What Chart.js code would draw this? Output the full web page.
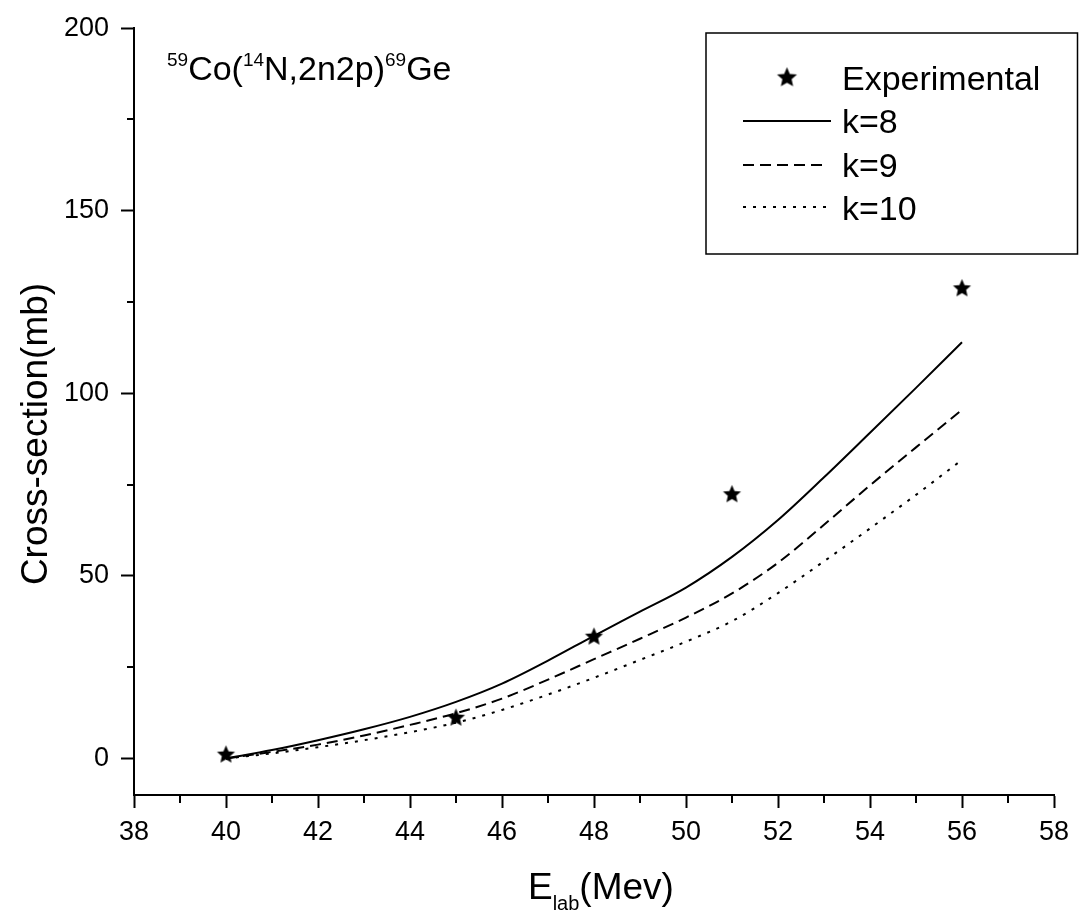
<!DOCTYPE html>
<html>
<head>
<meta charset="utf-8">
<title>59Co(14N,2n2p)69Ge cross-section</title>
<script src="https://cdn.jsdelivr.net/npm/chart.js@4/dist/chart.umd.min.js"></script>
<style>
  html, body { margin: 0; padding: 0; background: #fff; }
  #wrap { position: relative; width: 1079px; height: 915px; }
</style>
</head>
<body>
<div id="wrap"><canvas id="chart"></canvas></div>
<script>
// Beam energies (MeV) and measured cross-sections (mb)
const expEnergy = [40, 45, 48, 51, 56];
const expSigma  = [1.2, 11.3, 33.5, 72.5, 128.9];

// Theoretical excitation functions, sampled every 1 MeV
const calcEnergy = [40, 41, 42, 43, 44, 45, 46, 47, 48, 49, 50, 51, 52, 53, 54, 55, 56];
const sigmaK8  = [0, 2.3, 5.0, 8.0, 11.4, 15.5, 20.5, 26.8, 33.6, 40.2, 46.8, 55.2, 65.3, 77.0, 89.2, 101.5, 114.0];
const sigmaK9  = [0, 1.8, 3.8, 6.3, 9.2, 12.4, 16.4, 21.6, 27.2, 32.8, 38.6, 45.2, 53.6, 64.0, 74.8, 85.2, 95.5];
const sigmaK10 = [0, 1.4, 3.1, 5.0, 7.2, 9.8, 13.3, 17.5, 22.1, 27.0, 32.0, 37.6, 45.3, 54.0, 63.0, 72.2, 81.8];

// Axis tick values
const xTickValues = [38, 40, 42, 44, 46, 48, 50, 52, 54, 56, 58];
const xMinorValues = [39, 41, 43, 45, 47, 49, 51, 53, 55, 57];
const yTickValues = [0, 50, 100, 150, 200];
const yMinorValues = [25, 75, 125, 175];

const FONT = "'Liberation Sans', Arial, Helvetica, sans-serif";

function starImage(r) {
  const c = document.createElement('canvas');
  const s = Math.ceil(2 * r + 2);
  c.width = s; c.height = s;
  const g = c.getContext('2d');
  g.translate(s / 2, s / 2 + r * 0.08);
  g.beginPath();
  for (let i = 0; i < 10; i++) {
    const rad = i % 2 === 0 ? r : r * 0.46;
    const a = -Math.PI / 2 + i * Math.PI / 5;
    const px = rad * Math.cos(a), py = rad * Math.sin(a);
    if (i === 0) g.moveTo(px, py); else g.lineTo(px, py);
  }
  g.closePath();
  g.fillStyle = '#000';
  g.fill();
  return c;
}
const starPoint = starImage(9.5);
const starLegend = starImage(10.5);

const pairs = (xs, ys) => xs.map((x, i) => ({ x: x, y: ys[i] }));

// Minor ticks, axis titles, reaction label and the framed legend
const decorPlugin = {
  id: 'decor',
  afterDraw(chart) {
    const ctx = chart.ctx;
    const xs = chart.scales.x, ys = chart.scales.y;
    const area = chart.chartArea;
    ctx.save();
    ctx.strokeStyle = '#000';
    ctx.lineWidth = 2;
    ctx.beginPath();
    xMinorValues.forEach(v => {
      const px = Math.round(xs.getPixelForValue(v));
      ctx.moveTo(px, area.bottom);
      ctx.lineTo(px, area.bottom + 8);
    });
    yMinorValues.forEach(v => {
      const py = Math.round(ys.getPixelForValue(v));
      ctx.moveTo(area.left, py);
      ctx.lineTo(area.left - 7, py);
    });
    ctx.stroke();

    ctx.fillStyle = '#000';
    ctx.textBaseline = 'alphabetic';
    ctx.textAlign = 'left';

    // x-axis title: E_lab(Mev)
    let x = 528;
    ctx.font = '37px ' + FONT;
    ctx.fillText('E', x, 899);
    x += ctx.measureText('E').width;
    ctx.font = '20px ' + FONT;
    ctx.fillText('lab', x, 910);
    x += ctx.measureText('lab').width;
    ctx.font = '37px ' + FONT;
    ctx.fillText('(Mev)', x, 899);

    // y-axis title
    ctx.save();
    ctx.translate(47, 434);
    ctx.rotate(-Math.PI / 2);
    ctx.textAlign = 'center';
    ctx.font = '37px ' + FONT;
    ctx.fillText('Cross-section(mb)', 0, 0);
    ctx.restore();

    // reaction label
    const parts = [['59', 19, -14], ['Co(', 34, 0], ['14', 19, -14], ['N,2n2p)', 34, 0], ['69', 19, -14], ['Ge', 34, 0]];
    x = 167;
    parts.forEach(p => {
      ctx.font = p[1] + 'px ' + FONT;
      ctx.fillText(p[0], x, 80 + p[2]);
      x += ctx.measureText(p[0]).width;
    });

    // legend
    ctx.lineWidth = 1.5;
    ctx.strokeStyle = '#000';
    ctx.strokeRect(706, 33, 371.5, 221);
    ctx.font = '34px ' + FONT;
    ctx.drawImage(starLegend, 787 - starLegend.width / 2, 77 - starLegend.height / 2);
    ctx.fillText(chart.data.datasets[0].label, 842, 90);
    const rows = [[1, 121, 831, 133], [2, 165, 823, 177], [3, 207, 831, 220]];
    rows.forEach(r => {
      const ds = chart.data.datasets[r[0]];
      ctx.beginPath();
      ctx.setLineDash(ds.borderDash || []);
      ctx.lineWidth = ds.borderWidth;
      ctx.moveTo(743, r[1]);
      ctx.lineTo(r[2], r[1]);
      ctx.stroke();
      ctx.setLineDash([]);
      ctx.fillText(ds.label, 842, r[3]);
    });
    ctx.restore();
  }
};

Chart.defaults.font.family = FONT;
Chart.defaults.color = '#000';

new Chart(document.getElementById('chart'), {
  type: 'scatter',
  data: {
    datasets: [
      {
        label: 'Experimental',
        data: pairs(expEnergy, expSigma),
        pointStyle: starPoint,
        pointRadius: 10,
        showLine: false,
        order: 0
      },
      {
        label: 'k=8',
        data: pairs(calcEnergy, sigmaK8),
        showLine: true,
        borderColor: '#000',
        borderWidth: 2,
        borderDash: [],
        pointRadius: 0,
        cubicInterpolationMode: 'monotone',
        order: 1
      },
      {
        label: 'k=9',
        data: pairs(calcEnergy, sigmaK9),
        showLine: true,
        borderColor: '#000',
        borderWidth: 2,
        borderDash: [11, 6],
        pointRadius: 0,
        cubicInterpolationMode: 'monotone',
        order: 2
      },
      {
        label: 'k=10',
        data: pairs(calcEnergy, sigmaK10),
        showLine: true,
        borderColor: '#000',
        borderWidth: 2,
        borderDash: [3, 7],
        pointRadius: 0,
        cubicInterpolationMode: 'monotone',
        order: 3
      }
    ]
  },
  options: {
    responsive: true,
    maintainAspectRatio: false,
    animation: false,
    layout: { padding: { top: 23, right: 25, left: 0, bottom: 0 } },
    plugins: { legend: { display: false }, tooltip: { enabled: false } },
    scales: {
      x: {
        type: 'linear',
        min: 38, max: 58,
        afterFit(scale) { scale.height = 120; },
        afterBuildTicks(scale) { scale.ticks = xTickValues.map(v => ({ value: v })); },
        ticks: { font: { size: 27 }, padding: 8, maxRotation: 0, autoSkip: false },
        grid: { drawOnChartArea: false, drawTicks: true, tickLength: 13, tickWidth: 2, tickColor: '#000' },
        border: { display: true, color: '#000', width: 2 }
      },
      y: {
        type: 'linear',
        min: -10, max: 200,
        afterFit(scale) { scale.width = 134; },
        afterBuildTicks(scale) { scale.ticks = yTickValues.map(v => ({ value: v })); },
        ticks: { font: { size: 27 }, padding: 12, autoSkip: false },
        grid: { drawOnChartArea: false, drawTicks: true, tickLength: 13, tickWidth: 2, tickColor: '#000' },
        border: { display: true, color: '#000', width: 2 }
      }
    }
  },
  plugins: [decorPlugin]
});
</script>
</body>
</html>
